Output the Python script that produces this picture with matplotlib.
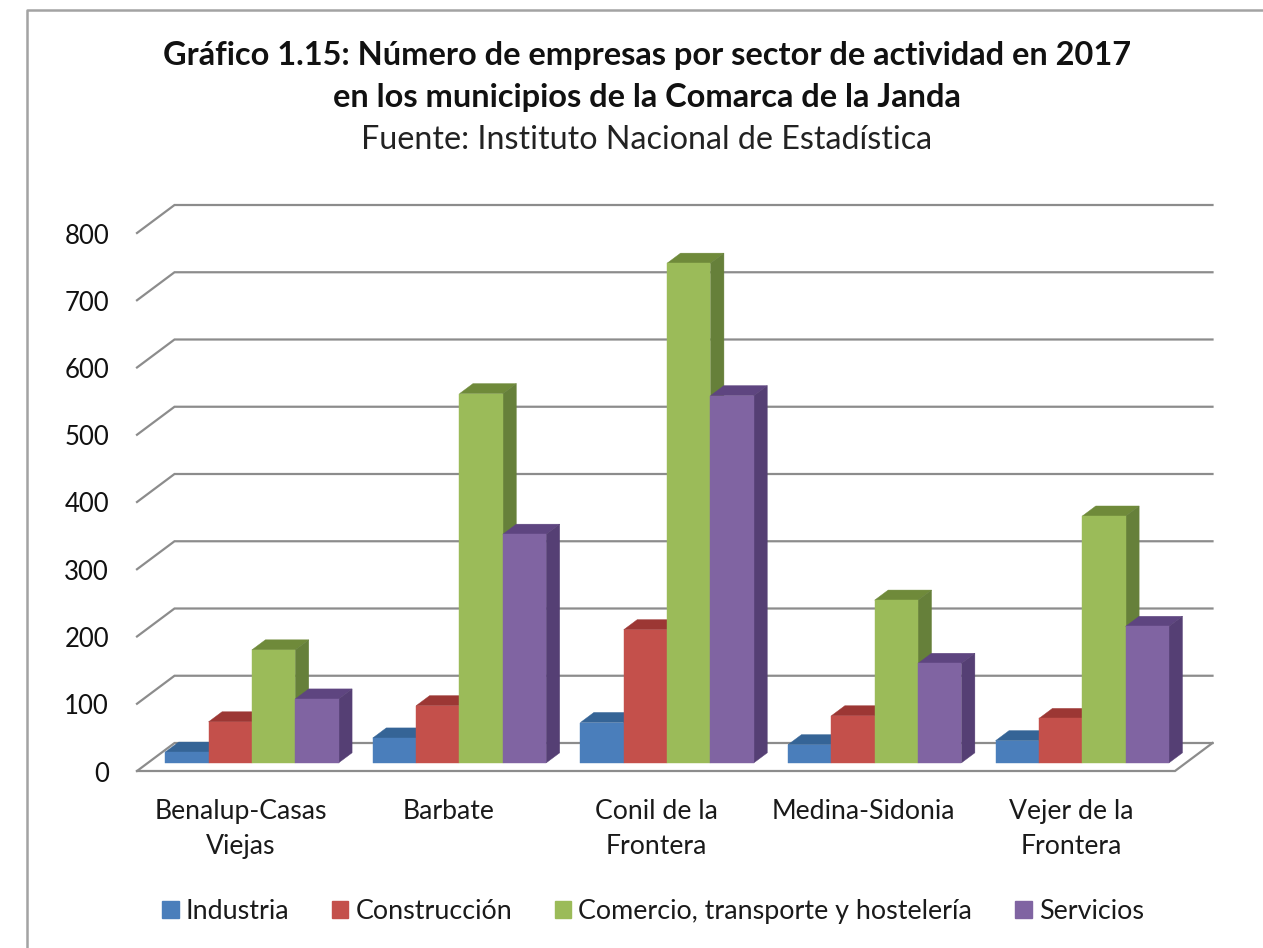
import matplotlib
matplotlib.use("Agg")
import matplotlib.pyplot as plt
from matplotlib.patches import Polygon, Patch
from matplotlib.lines import Line2D

municipios = ["Benalup-Casas\nViejas", "Barbate", "Conil de la\nFrontera", "Medina-Sidonia", "Vejer de la\nFrontera"]
series = ["Industria", "Construcción", "Comercio, transporte y hostelería", "Servicios"]
industria = [16, 37, 60, 27, 33]
construccion = [61, 85, 198, 70, 66]
comercio = [168, 549, 743, 242, 367]
servicios = [95, 340, 546, 148, 203]
valores = [industria, construccion, comercio, servicios]
ticks = [0, 100, 200, 300, 400, 500, 600, 700, 800]

front = ["#4a7ebb", "#c4504b", "#9bbb59", "#8064a2"]
top = ["#356496", "#9c3734", "#6f8a3a", "#5e4580"]
side = ["#2f5a8a", "#8f322f", "#66803a", "#553f74"]
grid = "#8c8c8c"

W, H = 1263, 948
fig = plt.figure(figsize=(W / 100, H / 100), dpi=100, facecolor="white")
plt.rcParams["font.family"] = ["Lato", "DejaVu Sans"]

# frame of the chart area
fig.add_artist(Line2D([27 / W, 27 / W, 1], [0, 1 - 9.5 / H, 1 - 9.5 / H], color="#a3a3a3", lw=1.8))

# front plane of the 3D box: x 137..1175, y 771 (0) .. 233 (800)
ax = fig.add_axes([137 / W, 1 - 771 / H, (1175 - 137) / W, (771 - 233) / H])
ax.set_xlim(0, 5)
ax.set_ylim(0, 800)
ax.axis("off")

DX = 37.5 / (1038 / 5)   # box depth in category units
DY = 28 / (538 / 800)    # box depth in value units
Z0, Z1 = 0.29, 0.65      # depth range of the bars
GAP = 0.0834
BW = 0.2088


def proj(x, y, z):
    return (x + z * DX, y + z * DY)


def poly(pts, color, zorder=3):
    ax.add_patch(Polygon(pts, closed=True, facecolor=color, edgecolor=color, lw=0.3, zorder=zorder, clip_on=False))


for t in ticks:
    pts = [proj(0, t, 0), proj(0, t, 1), proj(5, t, 1)]
    ax.plot(*zip(*pts), color=grid, lw=1.6, clip_on=False, zorder=1, solid_joinstyle="miter")
floor = [proj(0, 0, 0), proj(5, 0, 0), proj(5, 0, 1)]
ax.plot(*zip(*floor), color=grid, lw=1.6, clip_on=False, zorder=1, solid_joinstyle="miter")

for i in range(len(municipios)):
    for s in range(len(series)):
        v = valores[s][i]
        x0 = i + GAP + s * BW
        x1 = x0 + BW
        poly([proj(x0, v, Z0), proj(x1, v, Z0), proj(x1, v, Z1), proj(x0, v, Z1)], top[s])
        poly([proj(x1, 0, Z0), proj(x1, 0, Z1), proj(x1, v, Z1), proj(x1, v, Z0)], side[s])
        poly([proj(x0, 0, Z0), proj(x1, 0, Z0), proj(x1, v, Z0), proj(x0, v, Z0)], front[s])

for t in ticks:
    ax.annotate(str(t), (0, t), xytext=(-28, -3), textcoords="offset pixels", ha="right", va="center",
                fontsize=18.5, color="#111111", annotation_clip=False)

for i, m in enumerate(municipios):
    ax.annotate(m, (i + 0.5, 0), xytext=(0, -28), textcoords="offset pixels", ha="center", va="top",
                fontsize=19.2, color="#1a1a1a", annotation_clip=False, linespacing=1.5)

fig.text(647 / W, 1 - 55 / H, "Gráfico 1.15: Número de empresas por sector de actividad en 2017",
         ha="center", va="center", fontsize=23.4, fontweight="bold", color="#111111")
fig.text(647 / W, 1 - 98 / H, "en los municipios de la Comarca de la Janda",
         ha="center", va="center", fontsize=23.4, fontweight="bold", color="#111111")
fig.text(647 / W, 1 - 140 / H, "Fuente: Instituto Nacional de Estadística",
         ha="center", va="center", fontsize=23.2, color="#222222")

handles = [Patch(facecolor=c, edgecolor=c, label=l) for c, l in zip(front, series)]
fig.legend(handles=handles, ncol=4, loc="center", bbox_to_anchor=(653 / W, 1 - 911.5 / H), frameon=False,
           fontsize=19.4, handlelength=0.6, handleheight=0.6, handletextpad=0.26, columnspacing=1.6,
           labelcolor="#1a1a1a", borderpad=0)

fig.savefig("out.png", dpi=100)
